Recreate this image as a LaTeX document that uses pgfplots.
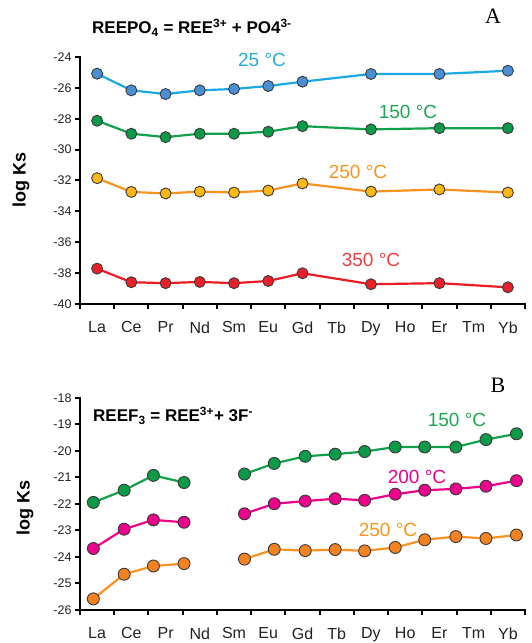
\documentclass[border=0pt]{standalone}
\usepackage{pgfplots}
\pgfplotsset{compat=1.18}
\usepackage{fontspec}
\setmainfont{Liberation Sans}
\newfontfamily\serifA{Liberation Serif}
\definecolor{tickgray}{HTML}{222222}
\definecolor{edge}{HTML}{3A3A3A}
\definecolor{lineA}{HTML}{1BA9E6}
\definecolor{fillA}{HTML}{4A8FD4}
\definecolor{lineG}{HTML}{12A14B}
\definecolor{fillG}{HTML}{0A9A48}
\definecolor{lineO}{HTML}{F7931E}
\definecolor{fillY}{HTML}{FDB813}
\definecolor{lineR}{HTML}{EC1C24}
\definecolor{fillR}{HTML}{E8202A}
\definecolor{lineM}{HTML}{EC008C}
\definecolor{fillM}{HTML}{EC008C}
\definecolor{fillO}{HTML}{F58220}
\definecolor{labB}{HTML}{29ABE2}
\definecolor{labG}{HTML}{1CA751}
\definecolor{labO}{HTML}{F7941D}
\definecolor{labR}{HTML}{EF3E42}
\definecolor{labM}{HTML}{EC008C}
\pgfplotsset{
  panel/.style={
    scale only axis, width=445pt, xmin=-0.5, xmax=12.5,
    axis x line*=bottom, axis y line*=left,
    axis line style={draw=none},
    tick align=outside, major tick length=5pt,
    xtick={-0.5,0.5,1.5,2.5,3.5,4.5,5.5,6.5,7.5,8.5,9.5,10.5,11.5,12.5},
    xticklabels={La,Ce,Pr,Nd,Sm,Eu,Gd,Tb,Dy,Ho,Er,Tm,Yb},
    x tick label as interval,
    xticklabel style={font=\fontsize{16}{18}\selectfont, text=tickgray, yshift=-9pt},
    yticklabel style={font=\fontsize{12.5}{14}\selectfont, text=tickgray},
    /pgf/number format/assume math mode=true,
    clip=false,
  },
  ser/.style 2 args={line width=2.2pt, color=#1, mark=*, mark size=5.5pt,
    mark options={fill=#2, draw=edge, line width=0.9pt}},
}
\newcommand{\axisframe}{%
  \draw[line width=2.6pt, black, line cap=rect] (rel axis cs:0,1) -- (rel axis cs:0,0) -- (rel axis cs:1,0);
}
\begin{document}
\begin{tikzpicture}[x=1pt,y=1pt]
\useasboundingbox (0,0) rectangle (532,643);
% ---------- Panel A ----------
\begin{axis}[panel, at={(80pt,339pt)}, anchor=south west, height=247pt,
  ymin=-40, ymax=-24, ytick={-40,-38,-36,-34,-32,-30,-28,-26,-24}]
\axisframe
\addplot[ser={lineA}{fillA}] coordinates {(0,-25.08) (1,-26.16) (2,-26.40) (3,-26.16) (4,-26.07) (5,-25.88) (6,-25.60) (8,-25.10) (10,-25.10) (12,-24.89)};
\addplot[ser={lineG}{fillG}] coordinates {(0,-28.13) (1,-28.97) (2,-29.19) (3,-28.97) (4,-28.97) (5,-28.84) (6,-28.48) (8,-28.69) (10,-28.61) (12,-28.61)};
\addplot[ser={lineO}{fillY}] coordinates {(0,-31.85) (1,-32.74) (2,-32.84) (3,-32.72) (4,-32.78) (5,-32.65) (6,-32.19) (8,-32.72) (10,-32.58) (12,-32.78)};
\addplot[ser={lineR}{fillR}] coordinates {(0,-37.71) (1,-38.59) (2,-38.65) (3,-38.57) (4,-38.65) (5,-38.51) (6,-38.01) (8,-38.72) (10,-38.65) (12,-38.92)};
\end{axis}
% ---------- Panel B ----------
\begin{axis}[panel, at={(80pt,33pt)}, anchor=south west, height=212pt,
  ymin=-26, ymax=-18, ytick={-26,-25,-24,-23,-22,-21,-20,-19,-18}]
\axisframe
\addplot[ser={lineG}{fillG}, mark size=6pt] coordinates {(-0.11,-21.94) (0.79,-21.48) (1.645,-20.92) (2.54,-21.19)};
\addplot[ser={lineG}{fillG}, mark size=6pt] coordinates {(4.305,-20.87) (5.175,-20.47) (6.08,-20.20) (6.955,-20.12) (7.815,-20.02) (8.71,-19.85) (9.57,-19.85) (10.48,-19.85) (11.36,-19.57) (12.25,-19.35)};
\addplot[ser={lineM}{fillM}, mark size=6pt] coordinates {(-0.11,-23.68) (0.79,-22.95) (1.645,-22.60) (2.54,-22.69)};
\addplot[ser={lineM}{fillM}, mark size=6pt] coordinates {(4.305,-22.37) (5.175,-21.99) (6.08,-21.89) (6.955,-21.80) (7.815,-21.86) (8.71,-21.63) (9.57,-21.48) (10.48,-21.43) (11.36,-21.33) (12.25,-21.12)};
\addplot[ser={lineO}{fillO}, mark size=6pt] coordinates {(-0.11,-25.58) (0.79,-24.65) (1.645,-24.34) (2.54,-24.25)};
\addplot[ser={lineO}{fillO}, mark size=6pt] coordinates {(4.305,-24.08) (5.175,-23.71) (6.08,-23.76) (6.955,-23.72) (7.815,-23.77) (8.71,-23.64) (9.57,-23.35) (10.48,-23.23) (11.36,-23.30) (12.25,-23.17)};
\end{axis}
% ---------- thick tick marks ----------
\foreach \k in {0,...,13} {
  \draw[line width=2pt, black] ({80+34.2308*\k},339) -- ++(0,-5.5);
  \draw[line width=2pt, black] ({80+34.2308*\k},33) -- ++(0,-5.5);
}
\foreach \k in {0,...,8} {
  \draw[line width=2pt, black] (80,{339+30.875*\k}) -- ++(-5,0);
  \draw[line width=2pt, black] (80,{33+26.5*\k}) -- ++(-5,0);
}
% ---------- Texts ----------
\node[anchor=west, font=\bfseries\fontsize{17}{20}\selectfont, inner sep=0pt] at (92,615) {REEPO\textsubscript{4} = REE\textsuperscript{3+} + PO4\textsuperscript{3-}};
\node[font=\serifA\fontsize{22}{24}\selectfont] at (493,627) {A};
\node[rotate=90, font=\bfseries\fontsize{18}{20}\selectfont] at (21,463) {log Ks};
\node[font=\fontsize{19}{22}\selectfont, text=labB] at (262,583) {25 °C};
\node[font=\fontsize{19}{22}\selectfont, text=labG] at (408,531) {150 °C};
\node[font=\fontsize{19}{22}\selectfont, text=labO] at (358,471) {250 °C};
\node[font=\fontsize{19}{22}\selectfont, text=labR] at (371,383) {350 °C};
\node[anchor=west, font=\bfseries\fontsize{17}{20}\selectfont, inner sep=0pt] at (93,227) {REEF\textsubscript{3} = REE\textsuperscript{3+}+ 3F\textsuperscript{-}};
\node[font=\serifA\fontsize{22}{24}\selectfont] at (498,258) {B};
\node[rotate=90, font=\bfseries\fontsize{18}{20}\selectfont] at (25,135) {log Ks};
\node[font=\fontsize{19}{22}\selectfont, text=labG] at (457,223) {150 °C};
\node[font=\fontsize{19}{22}\selectfont, text=labM] at (417,166) {200 °C};
\node[font=\fontsize{19}{22}\selectfont, text=labO] at (388,113) {250 °C};
\end{tikzpicture}
\end{document}
